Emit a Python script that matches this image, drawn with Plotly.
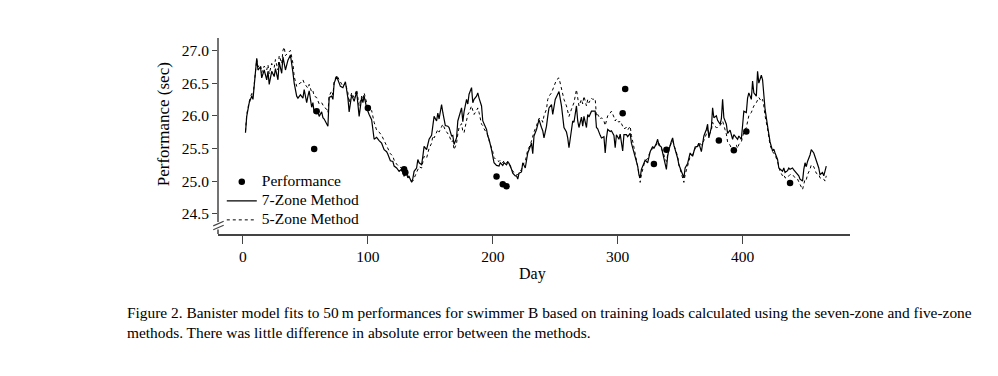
import plotly.graph_objects as go

# ---------------- data ----------------
days = [2, 3, 5, 7, 8, 11, 12, 14, 15, 17, 19, 20, 21, 23, 25, 26, 28, 29, 31, 32, 33, 34, 36, 38, 40, 41, 43, 44, 46, 48,
        49, 51, 52, 53, 55, 56, 57, 59, 60, 61, 63, 64, 65, 67, 68, 69, 71, 72, 73, 75, 77, 78, 80, 82, 84, 85, 87, 89, 91, 93,
        95, 96, 97, 99, 101, 103, 105, 107, 109, 111, 113, 115, 116, 118, 120, 121, 123, 125, 127, 129, 131, 132, 133, 135, 136, 137, 139, 140, 141, 143,
        144, 145, 147, 148, 149, 151, 152, 153, 155, 156, 157, 159, 160, 162, 164, 165, 167, 168, 169, 171, 172, 173, 175, 176, 177, 179, 180, 181, 183, 184,
        185, 187, 188, 189, 191, 192, 193, 195, 196, 197, 199, 200, 201, 203, 205, 206, 208, 209, 211, 212, 213, 215, 216, 218, 219, 220, 221, 223, 224, 226,
        227, 228, 230, 231, 232, 233, 235, 236, 237, 239, 240, 241, 243, 244, 245, 247, 248, 250, 251, 253, 255, 256, 257, 259, 260, 261, 263, 264, 265, 267,
        268, 269, 271, 272, 273, 275, 276, 277, 279, 280, 282, 283, 284, 286, 287, 289, 290, 291, 292, 294, 295, 297, 298, 299, 301, 302, 304, 305, 307, 308,
        310, 311, 313, 314, 316, 317, 318, 319, 321, 322, 324, 325, 326, 328, 329, 331, 332, 333, 335, 336, 337, 339, 340, 341, 343, 344, 345, 347, 348, 349,
        351, 352, 353, 354, 356, 357, 358, 360, 361, 362, 364, 365, 367, 368, 369, 371, 372, 373, 375, 376, 377, 379, 380, 382, 383, 384, 385, 387, 388, 390,
        391, 392, 393, 395, 396, 397, 399, 400, 401, 403, 404, 405, 407, 408, 409, 411, 412, 413, 415, 416, 417, 418, 420, 421, 422, 424, 425, 426, 428, 429,
        430, 432, 433, 434, 436, 437, 438, 440, 441, 442, 444, 445, 446, 448, 449, 450, 451, 452, 454, 455, 457, 458, 459, 461, 462, 464, 465, 466, 467]

seven_zone = [25.74, 25.99, 26.20, 26.30, 26.25, 26.88, 26.70, 26.75, 26.58, 26.70, 26.55, 26.68, 26.48, 26.68, 26.60, 26.72, 26.55, 26.82, 26.65, 26.90, 26.80, 26.70, 26.85, 26.93, 26.66, 26.50, 26.30, 26.27, 26.32, 26.27,
              26.40, 26.20, 26.30, 26.38, 26.13, 26.20, 26.04, 26.08, 26.06, 25.99, 26.06, 25.97, 25.95, 25.89, 25.84, 26.28, 26.30, 26.25, 26.50, 26.60, 26.50, 26.45, 26.43, 26.52, 26.27, 26.06, 26.32, 26.22, 26.37, 25.99,
              26.28, 26.20, 26.30, 26.12, 26.02, 25.94, 25.64, 25.67, 25.62, 25.58, 25.48, 25.45, 25.41, 25.31, 25.30, 25.23, 25.20, 25.15, 25.18, 25.08, 25.12, 25.05, 25.07, 24.98, 25.04, 25.15, 25.20, 25.33, 25.28, 25.25,
              25.38, 25.53, 25.48, 25.58, 25.64, 25.70, 25.84, 25.99, 25.92, 26.04, 25.95, 26.17, 26.05, 25.85, 25.84, 25.82, 25.69, 25.70, 25.56, 25.66, 25.92, 25.99, 26.12, 25.91, 26.06, 26.25, 26.18, 26.33, 26.43, 26.20,
              26.25, 26.30, 26.35, 26.27, 26.15, 25.92, 25.87, 25.79, 25.69, 25.64, 25.48, 25.38, 25.28, 25.24, 25.23, 25.28, 25.24, 25.28, 25.25, 25.29, 25.27, 25.18, 25.12, 25.08, 25.08, 25.03, 25.12, 25.14, 25.28, 25.20,
              25.35, 25.43, 25.53, 25.58, 25.42, 25.69, 25.79, 25.89, 25.94, 25.82, 25.77, 25.66, 25.84, 25.99, 26.12, 26.17, 26.02, 26.25, 26.30, 26.37, 26.15, 25.94, 25.82, 25.75, 25.66, 25.51, 25.78, 25.92, 25.90, 26.15,
              25.92, 25.82, 25.98, 25.84, 25.99, 25.82, 26.02, 25.98, 26.07, 26.07, 26.07, 25.82, 25.80, 25.70, 25.66, 25.68, 25.43, 25.66, 25.79, 25.76, 25.77, 25.70, 25.51, 25.71, 25.64, 25.72, 25.46, 25.71, 25.71, 25.68,
              25.73, 25.58, 25.44, 25.34, 25.23, 25.10, 25.05, 25.18, 25.26, 25.32, 25.28, 25.40, 25.45, 25.53, 25.50, 25.58, 25.64, 25.55, 25.52, 25.43, 25.33, 25.18, 25.38, 25.48, 25.61, 25.66, 25.55, 25.43, 25.35, 25.25,
              25.15, 25.10, 25.05, 25.20, 25.27, 25.35, 25.43, 25.38, 25.47, 25.52, 25.53, 25.58, 25.45, 25.55, 25.69, 25.79, 25.87, 25.66, 25.82, 26.12, 25.97, 26.00, 25.93, 25.87, 25.95, 26.25, 25.97, 25.87, 25.73, 25.78,
              25.69, 25.64, 25.71, 25.66, 25.64, 25.69, 25.64, 25.85, 26.07, 26.05, 26.27, 26.35, 26.25, 26.53, 26.35, 26.30, 26.68, 26.50, 26.62, 26.55, 26.30, 26.10, 25.84, 25.69, 25.60, 25.46, 25.49, 25.43, 25.33, 25.20,
              25.18, 25.15, 25.20, 25.13, 25.16, 25.20, 25.18, 25.20, 25.17, 25.15, 25.10, 25.08, 25.03, 25.00, 25.18, 25.28, 25.22, 25.30, 25.40, 25.48, 25.43, 25.38, 25.30, 25.20, 25.10, 25.13, 25.08, 25.15, 25.23]

five_zone = [25.76, 26.02, 26.22, 26.34, 26.30, 26.86, 26.75, 26.78, 26.66, 26.76, 26.70, 26.78, 26.64, 26.80, 26.74, 26.86, 26.70, 26.92, 26.80, 27.00, 27.05, 26.92, 26.96, 27.00, 26.80, 26.60, 26.45, 26.48, 26.50, 26.55,
             26.50, 26.45, 26.42, 26.48, 26.36, 26.38, 26.30, 26.28, 26.22, 26.18, 26.20, 26.15, 26.13, 26.10, 26.05, 26.30, 26.38, 26.32, 26.52, 26.62, 26.55, 26.50, 26.45, 26.50, 26.35, 26.20, 26.35, 26.28, 26.40, 26.15,
             26.30, 26.25, 26.35, 26.20, 26.12, 26.08, 25.90, 25.78, 25.75, 25.70, 25.62, 25.52, 25.48, 25.42, 25.38, 25.32, 25.26, 25.22, 25.20, 25.14, 25.12, 25.10, 25.06, 25.00, 25.00, 25.05, 25.12, 25.20, 25.22, 25.20,
             25.30, 25.38, 25.35, 25.42, 25.50, 25.58, 25.69, 25.66, 25.75, 25.79, 25.75, 25.85, 25.87, 25.78, 25.72, 25.70, 25.60, 25.62, 25.48, 25.58, 25.72, 25.82, 25.88, 25.76, 25.74, 25.95, 26.02, 26.05, 26.15, 26.08,
             26.02, 26.08, 26.12, 26.05, 25.87, 25.85, 25.80, 25.74, 25.70, 25.62, 25.52, 25.45, 25.36, 25.32, 25.30, 25.32, 25.28, 25.31, 25.28, 25.30, 25.28, 25.20, 25.15, 25.12, 25.10, 25.10, 25.12, 25.18, 25.25, 25.30,
             25.38, 25.48, 25.55, 25.62, 25.71, 25.75, 25.85, 25.90, 25.96, 25.95, 25.90, 26.00, 26.10, 26.25, 26.30, 26.35, 26.40, 26.50, 26.55, 26.58, 26.40, 26.35, 26.25, 26.15, 26.08, 25.99, 26.10, 26.15, 26.20, 26.40,
             26.22, 26.15, 26.25, 26.18, 26.30, 26.15, 26.25, 26.20, 26.27, 26.25, 26.26, 25.99, 26.02, 25.95, 25.97, 25.92, 25.85, 25.94, 26.00, 26.04, 26.07, 25.98, 25.92, 25.95, 25.90, 25.92, 25.85, 25.80, 25.82, 25.78,
             25.84, 25.70, 25.52, 25.43, 25.25, 25.12, 24.98, 25.10, 25.25, 25.30, 25.35, 25.42, 25.45, 25.50, 25.52, 25.55, 25.60, 25.58, 25.50, 25.45, 25.38, 25.30, 25.40, 25.50, 25.58, 25.62, 25.55, 25.45, 25.38, 25.25,
             25.12, 25.05, 24.98, 25.10, 25.22, 25.30, 25.38, 25.40, 25.45, 25.50, 25.52, 25.60, 25.55, 25.58, 25.62, 25.72, 25.82, 25.70, 25.78, 25.90, 25.85, 25.82, 25.82, 25.85, 25.88, 25.92, 25.85, 25.72, 25.60, 25.55,
             25.50, 25.48, 25.52, 25.55, 25.50, 25.56, 25.60, 25.69, 25.75, 25.82, 25.89, 26.00, 26.05, 26.09, 26.15, 26.20, 26.25, 26.28, 26.22, 26.25, 26.15, 26.00, 25.80, 25.64, 25.55, 25.45, 25.42, 25.40, 25.30, 25.20,
             25.15, 25.08, 25.10, 25.05, 25.05, 25.08, 25.10, 25.10, 25.08, 25.05, 25.03, 25.00, 24.95, 24.87, 24.95, 25.03, 25.02, 25.10, 25.18, 25.25, 25.22, 25.18, 25.12, 25.10, 25.05, 25.03, 25.03, 25.00, 25.08]

perf_days = [57, 59, 100, 129, 130, 203, 208, 211, 304, 306, 329, 339, 381, 393, 403, 438]
perf_vals = [25.49, 26.07, 26.12, 25.18, 25.13, 25.07, 24.95, 24.92, 26.04, 26.41, 25.26, 25.48, 25.62, 25.47, 25.76, 24.97]

x_ticks = [0, 100, 200, 300, 400]
y_ticks = [24.5, 25.0, 25.5, 26.0, 26.5, 27.0]
y_tick_labels = ["24.5", "25.0", "25.5", "26.0", "26.5", "27.0"]

series_names = ["Performance", "7-Zone Method", "5-Zone Method"]

caption_1 = ("Figure 2. Banister model fits to 50\u2009m performances for swimmer B based on training loads "
             "calculated using the seven-zone and five-zone")
caption_2 = "methods. There was little difference in absolute error between the methods."

# ---------------- figure ----------------
FONT = "Liberation Serif, Times New Roman, serif"
AX = "#444444"


def legend_label(s):
    return '<span style="font-size:15.5px">' + s + '</span>'


fig = go.Figure()
fig.add_trace(go.Scatter(x=perf_days, y=perf_vals, mode="markers", name=legend_label(series_names[0]),
                         marker=dict(color="black", size=6.5)))
fig.add_trace(go.Scatter(x=days, y=seven_zone, mode="lines", name=legend_label(series_names[1]),
                         line=dict(color="black", width=1.2)))
fig.add_trace(go.Scatter(x=days, y=five_zone, mode="lines", name=legend_label(series_names[2]),
                         line=dict(color="black", width=1, dash="dot")))

Y0, Y1 = 24.19, 27.19
fig.update_layout(
    width=998, height=376,
    margin=dict(l=218, r=148, t=38, b=142),
    paper_bgcolor="white", plot_bgcolor="white",
    font=dict(family=FONT, size=15.5, color="black"),
    showlegend=True,
    legend=dict(x=0.006, y=0.34, xanchor="left", yanchor="top", bgcolor="rgba(0,0,0,0)",
                font=dict(family=FONT, size=11.5), tracegroupgap=0, itemwidth=30),
    xaxis=dict(range=[-20, 486], tickvals=x_ticks, ticks="outside", ticklen=8, tickcolor=AX,
               tickwidth=1, showline=True, linecolor=AX, linewidth=1.5, showgrid=False,
               zeroline=False, tickfont=dict(family=FONT, size=15.5)),
    yaxis=dict(range=[Y0, Y1], tickvals=y_ticks, ticktext=y_tick_labels, ticks="outside",
               ticklen=5, tickcolor=AX, tickwidth=1, showline=False, showgrid=False,
               zeroline=False, tickfont=dict(family=FONT, size=15.5)),
)

# y axis line with a break near the bottom
fig.add_shape(type="line", xref="paper", yref="y", x0=0, x1=0, y0=24.375, y1=Y1,
              line=dict(color=AX, width=1.5))
fig.add_shape(type="line", xref="paper", yref="y", x0=0, x1=0, y0=Y0, y1=24.26,
              line=dict(color=AX, width=1.5))
fig.add_shape(type="line", xref="paper", yref="y", x0=-0.0075, x1=0.009, y0=24.315, y1=24.385,
              line=dict(color=AX, width=1.2))
fig.add_shape(type="line", xref="paper", yref="y", x0=-0.0075, x1=0.009, y0=24.255, y1=24.325,
              line=dict(color=AX, width=1.2))

fig.add_annotation(text="Performance (sec)", xref="paper", yref="paper", x=-0.087, y=0.56,
                   xanchor="center", yanchor="middle",
                   textangle=-90, showarrow=False, font=dict(family=FONT, size=17))
fig.add_annotation(text="Day", xref="paper", yref="paper", x=0.497, y=-0.204,
                   xanchor="center", yanchor="middle",
                   showarrow=False, font=dict(family=FONT, size=16))
fig.add_annotation(text=caption_1, xref="paper", yref="paper", x=-0.1471, y=-0.403,
                   xanchor="left", yanchor="middle", showarrow=False, font=dict(family=FONT, size=15.4))
fig.add_annotation(text=caption_2, xref="paper", yref="paper", x=-0.1471, y=-0.505,
                   xanchor="left", yanchor="middle", showarrow=False, font=dict(family=FONT, size=15.4))

fig.write_html("out.html", config={"displayModeBar": False},
               post_script="document.body.style.margin='0';")
